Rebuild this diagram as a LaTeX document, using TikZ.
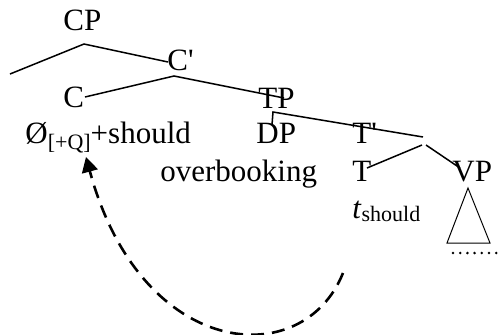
\documentclass[tikz,border=0pt]{standalone}
\usepackage{fontspec}
\setmainfont{Liberation Serif}
\usetikzlibrary{arrows.meta}
\definecolor{inkBlack}{RGB}{0, 0, 0}

\tikzset{
    lbl/.style={anchor=base west, inner sep=0pt, text=inkBlack, font=\fontsize{15.5pt}{18pt}\selectfont},
    branch/.style={draw=inkBlack, line width=0.75pt},
    movearrow/.style={draw=inkBlack, line width=1.3pt, dash pattern=on 6.5pt off 4pt, -{Triangle[length=7.5pt,width=8pt]}}
}

\begin{document}
\begin{tikzpicture}[x=0.5pt, y=-0.5pt]
                \useasboundingbox (0,0) rectangle (499,334);
                \node[lbl] (cp) at (63,30) {CP};
                \node[lbl] (cbar) at (167,70) {C\textquotesingle};
                \node[lbl] (c) at (63,107) {C};
                \node[lbl] (tp) at (258,108) {TP};
                \node[lbl] (nullq) at (25,143) {Ø{\fontsize{11pt}{12pt}\selectfont\raisebox{-3pt}{[+Q]}}+should};
                \node[lbl] (dp) at (256,143) {DP};
                \node[lbl] (tbar) at (352,143) {T\textquotesingle};
                \node[lbl] (obj) at (160,181) {overbooking};
                \node[lbl] (t) at (352,181) {T};
                \node[lbl] (vp) at (452,181) {VP};
                \node[lbl] (trace) at (352,218) {\textit{t}{\fontsize{11pt}{12pt}\selectfont\raisebox{-1.5pt}{should}}};
                \coordinate (cpTop) at (84,44);
                \coordinate (cpL) at (10,74);
                \coordinate (cpR) at (168,62);
                \coordinate (cbarTop) at (174,76);
                \coordinate (cbarL) at (85,97);
                \coordinate (cbarR) at (284,98);
                \coordinate (tpTop) at (273,112);
                \coordinate (tpL) at (272,125);
                \coordinate (tpR) at (423,137);
                \coordinate (tbarTop) at (422,145);
                \coordinate (tbarL) at (367,168);
                \coordinate (tbarR) at (460,168);
                \coordinate (vpTop) at (468,188);
                \coordinate (vpL) at (447,243);
                \coordinate (vpR) at (490,243);
                \coordinate (dotsL) at (453,253);
                \coordinate (dotsR) at (499,253);
                \coordinate (moveFrom) at (343,273);
                \coordinate (moveTo) at (86,157);
                \draw[branch] (cpL) -- (cpTop) -- (cpR);
                \draw[branch] (cbarL) -- (cbarTop) -- (cbarR);
                \draw[branch] (tpL) -- (tpTop) -- (tpR);
                \draw[branch] (tbarL) -- (tbarTop);
                \draw[branch] ([xshift=2]tbarTop) -- (tbarR);
                \draw[inkBlack, line width=0.5pt] (vpTop) -- (vpL) -- (vpR) -- cycle;
                \draw[inkBlack, line width=1.4pt, line cap=round, dash pattern=on 0pt off 3.6pt] (dotsL) -- (dotsR);
                \draw[movearrow] (moveFrom) .. controls (303,373) and (141,360) .. (moveTo);
            \end{tikzpicture}
\end{document}
